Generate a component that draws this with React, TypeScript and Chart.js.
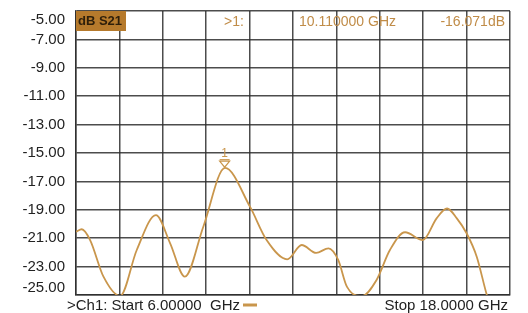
import React, { useEffect, useRef } from "react";
import { Chart, registerables } from "chart.js";

Chart.register(...registerables);

const FREQ_GHZ = [
  6.0, 6.16, 6.39, 6.76, 7.22, 7.68, 8.21, 8.6, 9.01, 9.52, 10.12, 10.81, 11.27,
  11.84, 12.24, 12.64, 12.98, 13.25, 13.49, 13.91, 14.31, 14.68, 15.1, 15.59,
  15.97, 16.26, 16.53, 16.8, 17.08, 17.36, 17.7, 18.0,
];
const S21_DB = [
  -20.54, -20.37, -21.13, -23.71, -25.07, -21.83, -19.37, -21.34, -23.71, -20.19,
  -16.05, -18.78, -21.13, -22.49, -21.48, -22.04, -21.71, -22.53, -24.41, -25.07,
  -23.94, -21.83, -20.58, -21.13, -19.6, -18.91, -19.6, -20.65, -22.3, -25.0,
  -27.5, -29.0,
];
const X_TICKS = [6, 7.2, 8.4, 9.6, 10.8, 12, 13.2, 14.4, 15.6, 16.8, 18];
const Y_TICKS = [-5, -7, -9, -11, -13, -15, -17, -19, -21, -23, -25];
const Y_TICK_LABELS = Y_TICKS.map((v) => v.toFixed(2));

const TRACE_NAME = "dB S21";
const MARKER_ID = "1";
const MARKER_FREQ = 10.11;
const MARKER_DB = -16.071;
const MARKER_LABELS = [">1:", "10.110000 GHz", "-16.071dB"];
const FOOTER_LEFT = ">Ch1: Start 6.00000  GHz";
const FOOTER_RIGHT = "Stop 18.0000 GHz";

const FONT = '"Liberation Sans", Arial, sans-serif';
const TRACE_COLOR = "#c9964c";
const HEADER_FILL = "#b67a2c";
const HEADER_TEXT = "#c08c48";
const GRID_COLOR = "rgba(45,45,45,0.85)";

const overlay = {
  id: "vnaOverlay",
  afterDraw(chart: any) {
    const { ctx, chartArea, scales } = chart;
    const { left, right, top, bottom } = chartArea;
    const ys = scales.y;
    const xs = scales.x;
    ctx.save();

    // Y labels
    ctx.fillStyle = "#222";
    ctx.font = `15px ${FONT}`;
    ctx.textAlign = "right";
    ctx.textBaseline = "middle";
    Y_TICKS.forEach((v, i) => {
      let y = ys.getPixelForValue(v);
      if (y < top + 9) y = top + 9;
      if (y > bottom - 7) y = bottom - 7;
      ctx.fillText(Y_TICK_LABELS[i], left - 11, y);
    });

    // Header box
    ctx.fillStyle = HEADER_FILL;
    ctx.fillRect(left, top, 50, 20);
    ctx.fillStyle = "#2e1f0a";
    ctx.font = `bold 13px ${FONT}`;
    ctx.textAlign = "left";
    ctx.fillText(TRACE_NAME, left + 2, top + 10);

    // Marker readout
    ctx.fillStyle = HEADER_TEXT;
    ctx.font = `14px ${FONT}`;
    ctx.textAlign = "left";
    ctx.fillText(MARKER_LABELS[0], left + 148, top + 11);
    ctx.fillText(MARKER_LABELS[1], left + 223, top + 11);
    ctx.textAlign = "right";
    ctx.fillText(MARKER_LABELS[2], right - 5, top + 11);

    // Marker symbol
    const mx = xs.getPixelForValue(MARKER_FREQ);
    const my = ys.getPixelForValue(MARKER_DB);
    ctx.strokeStyle = TRACE_COLOR;
    ctx.lineWidth = 1.2;
    ctx.beginPath();
    ctx.moveTo(mx - 5, my - 7);
    ctx.lineTo(mx + 5, my - 7);
    ctx.lineTo(mx, my - 1);
    ctx.closePath();
    ctx.stroke();
    ctx.beginPath();
    ctx.moveTo(mx - 5, my - 8.5);
    ctx.lineTo(mx + 5, my - 8.5);
    ctx.stroke();
    ctx.fillStyle = TRACE_COLOR;
    ctx.font = `12px ${FONT}`;
    ctx.textAlign = "center";
    ctx.fillText(MARKER_ID, mx, my - 15);

    // Footer
    ctx.fillStyle = "#222";
    ctx.font = `15px ${FONT}`;
    ctx.textAlign = "left";
    ctx.textBaseline = "alphabetic";
    ctx.fillText(FOOTER_LEFT, left - 9, bottom + 15);
    const w = ctx.measureText(FOOTER_LEFT).width;
    ctx.strokeStyle = TRACE_COLOR;
    ctx.lineWidth = 3;
    ctx.beginPath();
    ctx.moveTo(left - 9 + w + 3, bottom + 10);
    ctx.lineTo(left - 9 + w + 17, bottom + 10);
    ctx.stroke();
    ctx.textAlign = "right";
    ctx.fillText(FOOTER_RIGHT, right - 2, bottom + 15);

    ctx.restore();
  },
};

export default function App() {
  const ref = useRef<HTMLCanvasElement | null>(null);

  useEffect(() => {
    document.body.style.margin = "0";
    const canvas = ref.current;
    if (!canvas) return;
    const chart = new Chart(canvas, {
      type: "line",
      data: {
        datasets: [
          {
            data: FREQ_GHZ.map((f, i) => ({ x: f, y: S21_DB[i] })),
            borderColor: TRACE_COLOR,
            borderWidth: 1.8,
            pointRadius: 0,
            cubicInterpolationMode: "monotone",
            fill: false,
          },
        ],
      },
      options: {
        animation: false,
        responsive: false,
        maintainAspectRatio: false,
        layout: { padding: { left: 76, right: 18, top: 11, bottom: 18 } },
        plugins: { legend: { display: false }, tooltip: { enabled: false } },
        scales: {
          x: {
            type: "linear",
            min: 6,
            max: 18,
            afterBuildTicks: (axis: any) => {
              axis.ticks = X_TICKS.map((v) => ({ value: v }));
            },
            ticks: { display: false },
            grid: { color: GRID_COLOR, lineWidth: 1.5, drawTicks: false },
            border: { color: GRID_COLOR, width: 1.5 },
          },
          y: {
            type: "linear",
            min: -25,
            max: -5,
            afterBuildTicks: (axis: any) => {
              axis.ticks = Y_TICKS.map((v) => ({ value: v }));
            },
            ticks: { display: false },
            grid: { color: GRID_COLOR, lineWidth: 1.5, drawTicks: false },
            border: { color: GRID_COLOR, width: 1.5 },
          },
        },
      },
      plugins: [overlay],
    });
    return () => chart.destroy();
  }, []);

  return (
    <div style={{ position: "absolute", left: 0, top: 0, width: 528, height: 313, background: "#fff" }}>
      <canvas ref={ref} width={528} height={313} style={{ width: 528, height: 313 }} />
    </div>
  );
}
